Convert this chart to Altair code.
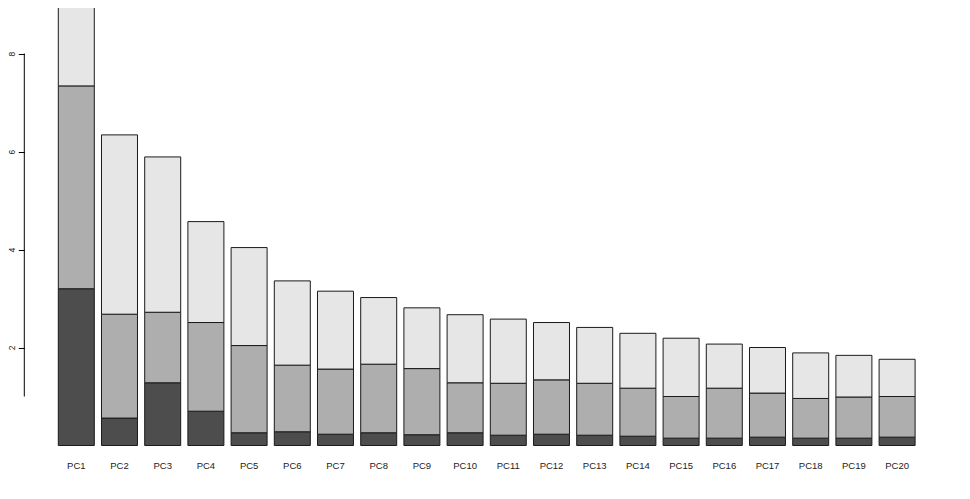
import altair as alt
import pandas as pd

categories = [f"PC{i}" for i in range(1, 21)]
# stacked segment heights (bottom, middle, top)
seg_dark = [3.20, 0.56, 1.28, 0.70, 0.26, 0.28, 0.23, 0.26, 0.22, 0.26,
            0.21, 0.23, 0.21, 0.19, 0.15, 0.15, 0.17, 0.15, 0.15, 0.17]
seg_mid = [4.14, 2.12, 1.44, 1.81, 1.78, 1.36, 1.33, 1.40, 1.35, 1.02,
           1.06, 1.11, 1.06, 0.98, 0.85, 1.02, 0.90, 0.81, 0.84, 0.83]
seg_light = [1.73, 3.66, 3.17, 2.06, 2.00, 1.72, 1.59, 1.36, 1.24, 1.39,
             1.31, 1.17, 1.14, 1.12, 1.19, 0.90, 0.93, 0.93, 0.85, 0.76]
series_names = ["s1", "s2", "s3"]
series_colors = ["#4D4D4D", "#AEAEAE", "#E6E6E6"]
y_ticks = [2, 4, 6, 8]
axis_line = [1, 8]

rows = []
for k, (name, vals) in enumerate(zip(series_names, [seg_dark, seg_mid, seg_light])):
    for c, v in zip(categories, vals):
        rows.append({"pc": c, "series": name, "order": k, "value": v})
df = pd.DataFrame(rows)

FONT = "Liberation Sans"

bars = alt.Chart(df).mark_bar(stroke="#1a1a1a", strokeWidth=1).encode(
    x=alt.X("pc:N", sort=categories,
            scale=alt.Scale(paddingInner=0.1667, paddingOuter=0),
            axis=alt.Axis(title=None, domain=False, ticks=False, labelAngle=0,
                          labelPadding=15, labelFontSize=9.5, labelFont=FONT,
                          labelColor="#222222")),
    y=alt.Y("value:Q", stack="zero",
            scale=alt.Scale(domain=[0, 8.93], nice=False),
            axis=alt.Axis(title=None, values=y_ticks, domain=False, grid=False,
                          offset=34, tickSize=6, tickColor="black", tickWidth=1,
                          labelAngle=270, labelAlign="center", labelBaseline="bottom",
                          labelPadding=2, labelFontSize=8.5, labelFont=FONT,
                          labelColor="#222222")),
    color=alt.Color("series:N", scale=alt.Scale(domain=series_names, range=series_colors),
                    legend=None),
    order=alt.Order("order:Q", sort="ascending"),
)

rule_df = pd.DataFrame({"lo": [axis_line[0]], "hi": [axis_line[1]]})
rule = alt.Chart(rule_df).mark_rule(color="black", strokeWidth=1).encode(
    x=alt.value(-34),
    y=alt.Y("lo:Q"),
    y2="hi:Q",
)

chart = alt.layer(bars, rule).properties(
    width=856.8, height=437.5,
    autosize=alt.AutoSizeParams(type="none"),
    padding={"left": 50.3, "top": 0, "right": 45, "bottom": 45},
    background="white",
).configure_view(stroke=None)

chart.save("out.html", embed_options={"renderer": "svg", "actions": False})
